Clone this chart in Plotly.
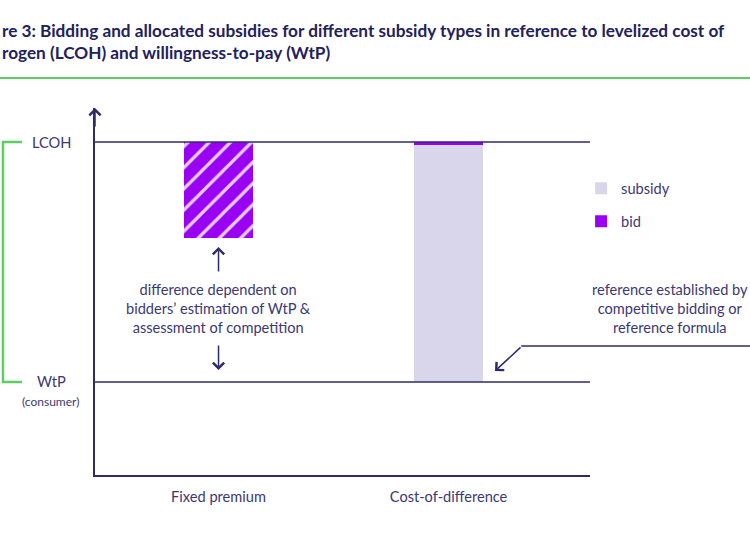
import plotly.graph_objects as go

# ---- data (schematic levels) ----
categories = ["Fixed premium", "Cost-of-difference"]
level_names = ["LCOH", "WtP"]
LCOH = 3.58
WTP = 1.0
Y_TOP = 3.946
bid_low = [2.55, 3.55]          # lower edge of the bid bar per category
subsidy_low = [None, 1.0]       # subsidy only for cost-of-difference
subsidy_high = [None, 3.55]
legend_names = ["subsidy", "bid"]

NAVY = "#2e2b6c"
TEXT = "#3b3873"
PURPLE = "#9a00f2"
STRIPE = "#e4cdfd"
LAV = "#d9d6ec"
GREEN = "#5bcf63"
FONT = "Lato"
BODY = 14.6

fig = go.Figure()

# subsidy (cost-of-difference)
fig.add_trace(go.Bar(
    name=legend_names[0], legendgroup="s",
    x=[categories[1]], base=[subsidy_low[1]], y=[subsidy_high[1] - subsidy_low[1]],
    width=0.3, marker=dict(color=LAV, line=dict(width=0)),
))
# bid (cost-of-difference) solid
fig.add_trace(go.Bar(
    name=legend_names[1], legendgroup="b",
    x=[categories[1]], base=[bid_low[1]], y=[LCOH - bid_low[1]],
    width=0.3, marker=dict(color=PURPLE, line=dict(width=0)),
))
# bid (fixed premium) hatched
fig.add_trace(go.Bar(
    name=legend_names[1], legendgroup="b", showlegend=False,
    x=[categories[0]], base=[bid_low[0]], y=[LCOH - bid_low[0]],
    width=0.3,
    marker=dict(color=PURPLE, line=dict(width=0),
                pattern=dict(shape="/", fgcolor=STRIPE, bgcolor=PURPLE,
                             size=15, solidity=0.22, fillmode="replace")),
))

shapes = [
    # LCOH and WtP reference lines
    dict(type="line", xref="paper", yref="y", x0=0, x1=1, y0=LCOH, y1=LCOH,
         line=dict(color=NAVY, width=1.5)),
    dict(type="line", xref="paper", yref="y", x0=0, x1=1, y0=WTP, y1=WTP,
         line=dict(color=NAVY, width=1.5)),
    # green bracket
    dict(type="path", xref="paper", yref="y",
         path=f"M -0.1475,{LCOH} L -0.1859,{LCOH} L -0.1859,{WTP} L -0.1475,{WTP}",
         line=dict(color=GREEN, width=2.5)),
    # green separator under title
    dict(type="line", xref="paper", yref="paper", x0=-0.2, x1=1.35, y0=1.0817, y1=1.0817,
         line=dict(color=GREEN, width=2)),
    # horizontal part of right pointer
    dict(type="line", xref="paper", yref="y", x0=0.861, x1=1.35, y0=1.387, y1=1.387,
         line=dict(color=NAVY, width=1.5)),
]

arrow = dict(showarrow=True, arrowhead=4, arrowsize=1.45, arrowwidth=1.5,
             arrowcolor=NAVY, text="", axref="pixel", ayref="pixel")
tfont = dict(family=FONT, size=17.2, color="#22205d", weight="bold")
bfont = dict(family=FONT, size=BODY, color=TEXT)

annotations = [
    dict(xref="paper", yref="paper", x=-0.192, y=1.2125, xanchor="left", yanchor="middle",
         showarrow=False,
         text="re 3: Bidding and allocated subsidies for different subsidy types in reference to levelized cost of",
         font=tfont),
    dict(xref="paper", yref="paper", x=-0.192, y=1.150, xanchor="left", yanchor="middle",
         showarrow=False,
         text="rogen (LCOH) and willingness-to-pay (WtP)",
         font=tfont),
    dict(xref="paper", yref="y", x=-0.0869, y=LCOH, xanchor="center", showarrow=False,
         text=level_names[0], font=bfont),
    dict(xref="paper", yref="y", x=-0.0869, y=WTP, xanchor="center", showarrow=False,
         text=level_names[1], font=bfont),
    dict(xref="paper", yref="y", x=-0.0889, y=WTP, yshift=-20, xanchor="center",
         showarrow=False, text="(consumer)",
         font=dict(family=FONT, size=12, color=TEXT)),
    dict(xref="x", yref="y", x=0, y=1.785, xanchor="center", showarrow=False,
         text="difference dependent on<br>bidders’ estimation of WtP &amp;<br>assessment of competition",
         font=bfont),
    dict(xref="paper", yref="y", x=1.162, y=1.785, xanchor="center", showarrow=False,
         text="reference established by<br>competitive bidding or<br>reference formula",
         font=bfont),
    dict(xref="x", yref="y", x=0, y=2.452, ax=0, ay=26, **arrow),
    dict(xref="x", yref="y", x=0, y=1.129, ax=0, ay=-26, **arrow),
    dict(xref="x", yref="y", x=1.202, y=1.118, ax=27, ay=-25, **arrow),
    dict(xref="x", yref="y", x=-0.537, y=Y_TOP, ax=0, ay=20, **arrow),
]

fig.update_layout(
    width=750, height=536,
    paper_bgcolor="white", plot_bgcolor="white",
    margin=dict(l=95, r=160, t=108, b=61, autoexpand=False),
    barmode="overlay", bargap=0, hovermode=False,
    font=dict(family=FONT, size=BODY, color=TEXT),
    shapes=shapes, annotations=annotations,
    showlegend=True,
    legend=dict(x=0.982, y=0.825, xanchor="left", yanchor="top",
                traceorder="grouped", tracegroupgap=11,
                font=dict(family=FONT, size=BODY, color=TEXT),
                bgcolor="rgba(0,0,0,0)", itemwidth=30),
    xaxis=dict(type="category", categoryorder="array", categoryarray=categories,
               range=[-0.537, 1.615], showline=True, linecolor=NAVY, linewidth=1.5,
               showgrid=False, zeroline=False, ticks="", ticklabelstandoff=8,
               tickfont=dict(family=FONT, size=BODY, color=TEXT)),
    yaxis=dict(range=[0, Y_TOP], showline=True, linecolor=NAVY, linewidth=1.5,
               showgrid=False, zeroline=False, showticklabels=False, ticks=""),
)

fig.write_html("out.html", config={"displayModeBar": False},
               post_script="document.body.style.margin='0';document.body.style.padding='0';")
